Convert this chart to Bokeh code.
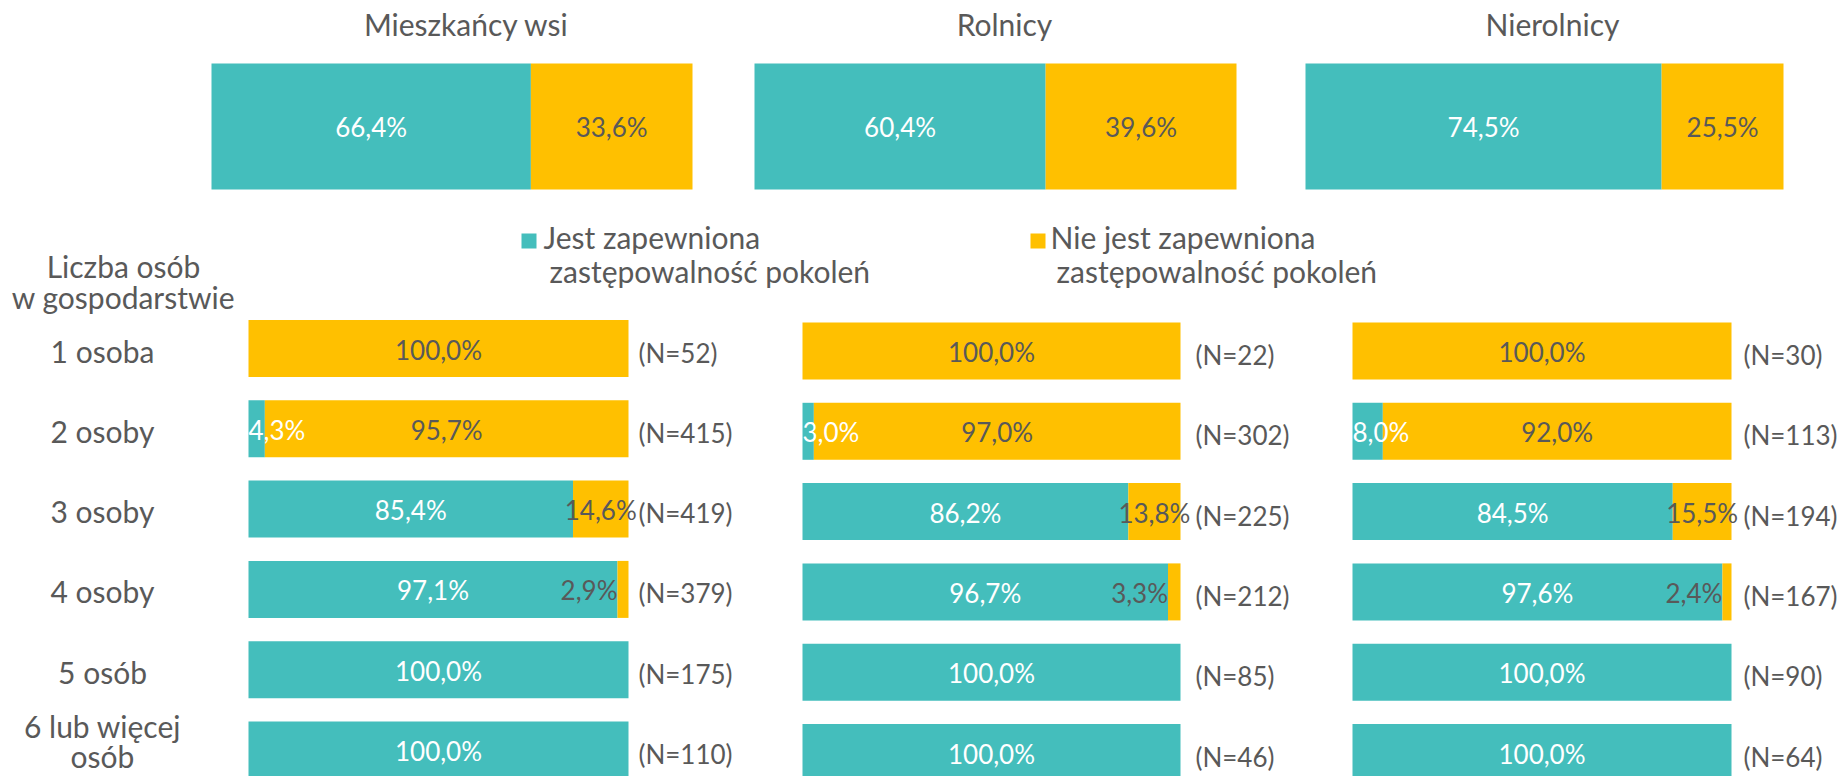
from bokeh.plotting import figure
from bokeh.models import Range1d, ColumnDataSource
from bokeh.embed import file_html
from bokeh.resources import INLINE
from bokeh.core.properties import value

# ---------------- data ----------------
groups = ["Mieszkańcy wsi", "Rolnicy", "Nierolnicy"]
series_yes = ["Jest zapewniona", "zastępowalność pokoleń"]
series_no = ["Nie jest zapewniona", "zastępowalność pokoleń"]
axis_title = ["Liczba osób", "w gospodarstwie"]

total_yes = [66.4, 60.4, 74.5]
total_no = [33.6, 39.6, 25.5]

categories = ["1 osoba", "2 osoby", "3 osoby", "4 osoby", "5 osób", "6 lub więcej\nosób"]

yes_wsi = [0.0, 4.3, 85.4, 97.1, 100.0, 100.0]
no_wsi = [100.0, 95.7, 14.6, 2.9, 0.0, 0.0]
n_wsi = [52, 415, 419, 379, 175, 110]

yes_rol = [0.0, 3.0, 86.2, 96.7, 100.0, 100.0]
no_rol = [100.0, 97.0, 13.8, 3.3, 0.0, 0.0]
n_rol = [22, 302, 225, 212, 85, 46]

yes_nrol = [0.0, 8.0, 84.5, 97.6, 100.0, 100.0]
no_nrol = [100.0, 92.0, 15.5, 2.4, 0.0, 0.0]
n_nrol = [30, 113, 194, 167, 90, 64]

yes_all = [yes_wsi, yes_rol, yes_nrol]
no_all = [no_wsi, no_rol, no_nrol]
n_all = [n_wsi, n_rol, n_nrol]

# ---------------- layout / style ----------------
W, H = 1845, 776
TEAL = "#44BEBC"
GOLD = "#FFC000"
GRAY = "#595959"
FONT = value("Lato")
WORD_SIZE = "30px"
NUM_SIZE = "26px"

TOP_SPANS = [(211, 692), (754, 1236), (1305, 1783)]
TOP_C, TOP_H = 126, 126
BOT_SPANS = [(248, 628), (802, 1180), (1352, 1731)]
ROW0 = [348, 350.5, 350.5]
PITCH = 80.3
BAR_H = 57
TITLE_X = [466, 1004, 1552]
TITLE_BASE = 23
N_GAP = [10, 15, 12]
ROWLAB_X = 102


def fmt(v):
    return f"{v:.1f}".replace(".", ",") + "%"


def xr(L, R):
    span = R - L
    return Range1d(start=-L / span * 100.0, end=(W - L) / span * 100.0)


def yr(c, pitch):
    end = -c / pitch
    return Range1d(start=end + H / pitch, end=end)


p = figure(width=W, height=H, x_range=Range1d(0, W), y_range=Range1d(H, 0),
           x_axis_type=None, y_axis_type=None, output_backend="svg",
           toolbar_location=None, min_border=0, outline_line_color=None,
           background_fill_color="white", border_fill_color="white")
p.grid.visible = False

for k in range(3):
    p.extra_x_ranges[f"tx{k}"] = xr(*TOP_SPANS[k])
    p.extra_x_ranges[f"bx{k}"] = xr(*BOT_SPANS[k])
    p.extra_y_ranges[f"by{k}"] = yr(ROW0[k], PITCH)
p.extra_y_ranges["ty"] = yr(TOP_C, TOP_H)

rows = list(range(len(categories)))

for k in range(3):
    # ---- top summary bar ----
    tsrc = ColumnDataSource(dict(y=[0], yes=[total_yes[k]], tot=[total_yes[k] + total_no[k]]))
    p.hbar(y="y", left=0, right="yes", height=1.0, fill_color=TEAL, line_color=None,
           source=tsrc, x_range_name=f"tx{k}", y_range_name="ty")
    p.hbar(y="y", left="yes", right="tot", height=1.0, fill_color=GOLD, line_color=None,
           source=tsrc, x_range_name=f"tx{k}", y_range_name="ty")
    p.text(x=[total_yes[k] / 2], y=[0], text=[fmt(total_yes[k])], text_color="white",
           text_font=FONT, text_font_size=NUM_SIZE, text_align="center", text_baseline="middle",
           x_range_name=f"tx{k}", y_range_name="ty")
    p.text(x=[total_yes[k] + total_no[k] / 2], y=[0], text=[fmt(total_no[k])], text_color=GRAY,
           text_font=FONT, text_font_size=NUM_SIZE, text_align="center", text_baseline="middle",
           x_range_name=f"tx{k}", y_range_name="ty")
    # title
    p.text(x=[TITLE_X[k]], y=[TITLE_BASE], text=[groups[k]], text_color=GRAY,
           text_font=FONT, text_font_size=WORD_SIZE, text_align="center",
           text_baseline="alphabetic")

    # ---- breakdown bars ----
    yes, no, ns = yes_all[k], no_all[k], n_all[k]
    tot = [a + b for a, b in zip(yes, no)]
    src = ColumnDataSource(dict(y=rows, yes=yes, no=no, tot=tot))
    xn, yn = f"bx{k}", f"by{k}"
    p.hbar(y="y", left=0, right="yes", height=BAR_H / PITCH, fill_color=TEAL, line_color=None,
           source=src, x_range_name=xn, y_range_name=yn)
    p.hbar(y="y", left="yes", right="tot", height=BAR_H / PITCH, fill_color=GOLD, line_color=None,
           source=src, x_range_name=xn, y_range_name=yn)

    # teal labels
    for align in ("center", "left"):
        xs, ys, ts = [], [], []
        for r, (a, b) in enumerate(zip(yes, no)):
            if a <= 0:
                continue
            big = a >= 10
            if (align == "center") == big:
                xs.append(a / 2 if big else 0.0)
                ys.append(r)
                ts.append(fmt(a))
        if xs:
            p.text(x=xs, y=ys, text=ts, text_color="white", text_font=FONT,
                   text_font_size=NUM_SIZE, text_align=align, text_baseline="middle",
                   y_offset=1, x_range_name=xn, y_range_name=yn)
    # gold labels
    for align in ("center", "right"):
        xs, ys, ts = [], [], []
        for r, (a, b) in enumerate(zip(yes, no)):
            if b <= 0:
                continue
            big = b >= 10
            if (align == "center") == big:
                xs.append(a + b / 2 if big else a)
                ys.append(r)
                ts.append(fmt(b))
        if xs:
            p.text(x=xs, y=ys, text=ts, text_color=GRAY, text_font=FONT,
                   text_font_size=NUM_SIZE, text_align=align, text_baseline="middle",
                   y_offset=1, x_range_name=xn, y_range_name=yn)
    # N labels
    p.text(x=tot, y=rows, text=[f"(N={n})" for n in ns], text_color=GRAY, text_font=FONT,
           text_font_size=NUM_SIZE, text_align="left", text_baseline="middle",
           x_offset=N_GAP[k], y_offset=4, x_range_name=xn, y_range_name=yn)

# row (category) labels: single-line ones slightly below the bar centre,
# the two-line one a bit above it so that it stays on the page
lab_src = ColumnDataSource(dict(
    x=[ROWLAB_X] * len(categories), y=rows, text=categories,
    dy=[-9 if "\n" in c else 2 for c in categories]))
p.text(x="x", y="y", text="text", y_offset="dy", source=lab_src, text_color=GRAY,
       text_font=FONT, text_font_size=WORD_SIZE, text_align="center", text_baseline="middle",
       text_line_height=0.85, y_range_name="by0")

# axis title
p.text(x=[123, 123], y=[265, 296], text=axis_title, text_color=GRAY,
       text_font=FONT, text_font_size=WORD_SIZE, text_align="center", text_baseline="alphabetic")

# legend (manual)
for sx, tx, lines, col in ((521, 543, series_yes, TEAL), (1030, 1050, series_no, GOLD)):
    p.quad(left=[sx], right=[sx + 15], top=[233], bottom=[248],
           fill_color=col, line_color=None)
    p.text(x=[tx, tx + 6], y=[236, 270], text=lines, text_color=GRAY,
           text_font=FONT, text_font_size=WORD_SIZE, text_align="left", text_baseline="alphabetic")

open("out.html", "w").write(file_html(p, INLINE))
